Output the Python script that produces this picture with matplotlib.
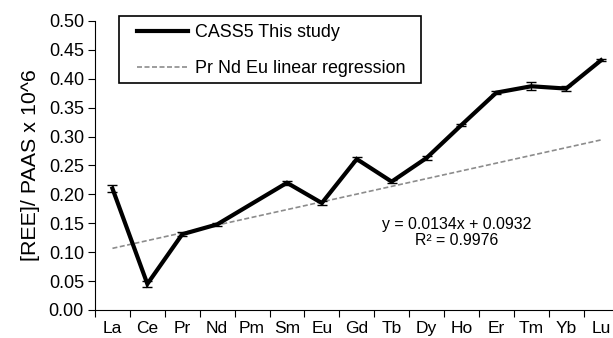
import numpy as np
import matplotlib.pyplot as plt
from matplotlib.patches import Rectangle
from matplotlib.ticker import FixedLocator, FixedFormatter

plt.rcParams['font.family'] = ['Liberation Sans', 'DejaVu Sans']

# data
ree = ['La', 'Ce', 'Pr', 'Nd', 'Pm', 'Sm', 'Eu', 'Gd', 'Tb', 'Dy', 'Ho', 'Er', 'Tm', 'Yb', 'Lu']
cass5 = [0.210, 0.045, 0.131, 0.148, np.nan, 0.220, 0.185, 0.261, 0.222, 0.263, 0.320, 0.376, 0.387, 0.383, 0.432]
err = [0.006, 0.005, 0.003, 0.003, np.nan, 0.003, 0.004, 0.003, 0.003, 0.003, 0.002, 0.003, 0.007, 0.004, 0.002]
slope = 0.0134
intercept = 0.0932

x = np.arange(1, len(ree) + 1)
y = np.array(cass5)
e = np.array(err)
ok = ~np.isnan(y)

fig = plt.figure(figsize=(6.13, 3.38), dpi=100)
ax = fig.add_axes([0.155, 0.083, 0.854, 0.855])

ax.plot(x[ok], y[ok], color='black', lw=3, solid_joinstyle='miter', label='CASS5 This study', zorder=3)
ax.errorbar(x[ok], y[ok], yerr=e[ok], fmt='none', ecolor='black', elinewidth=1, capsize=3.5, zorder=4)
ax.plot(x, slope * x + intercept, color='#8c8c8c', lw=1.2, ls=(0, (3, 1.5)),
        label='Pr Nd Eu linear regression', zorder=2)

ax.text(10.87, 0.1335, 'y = 0.0134x + 0.0932\nR² = 0.9976', ha='center', va='center',
        fontsize=11.4, linespacing=1.1)

ax.set_xlim(0.5, 15.5)
ax.set_ylim(0, 0.5)
ax.set_yticks(np.arange(0, 0.51, 0.05))
ax.set_yticklabels([f'{v:.2f}' for v in np.arange(0, 0.51, 0.05)])
ax.xaxis.set_major_locator(FixedLocator(np.arange(0.5, 15.6, 1)))
ax.xaxis.set_major_formatter(FixedFormatter([]))
ax.xaxis.set_minor_locator(FixedLocator(x))
ax.xaxis.set_minor_formatter(FixedFormatter(ree))
ax.tick_params(axis='x', which='minor', length=0, labelsize=12.5, pad=8)
ax.tick_params(axis='x', which='major', length=5, direction='out')
ax.tick_params(axis='y', length=5, direction='out', labelsize=13, pad=3)
for s in ['top', 'right']:
    ax.spines[s].set_visible(False)
ax.set_ylabel('[REE]/ PAAS x 10^6', fontsize=15.4, labelpad=6)

# legend box drawn by hand (Excel style)
box = Rectangle((119 / 613, 1 - 83 / 338), 302 / 613, 67 / 338,
                transform=fig.transFigure, facecolor='white',
                edgecolor='black', lw=1.2, zorder=5, clip_on=False)
ax.add_patch(box)
leg = ax.legend(loc='upper left', bbox_to_anchor=(137 / 613, 1 - 24 / 338),
                bbox_transform=fig.transFigure, fontsize=12.9, frameon=False,
                handlelength=2.85, handletextpad=0.4, borderpad=0, borderaxespad=0,
                labelspacing=1.07)
leg.set_zorder(6)

fig.savefig('out.png', dpi=100)
